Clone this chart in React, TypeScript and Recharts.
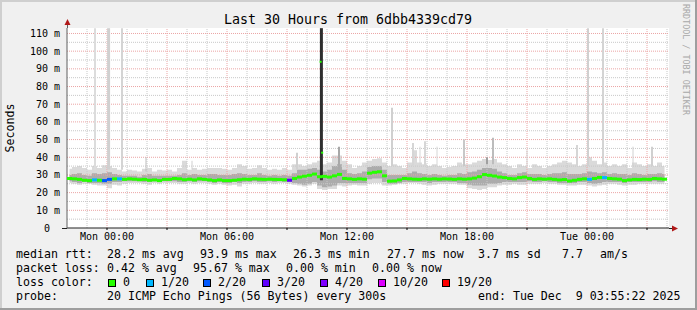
import { ComposedChart, Area, Line, Scatter, XAxis, YAxis, ReferenceLine, CartesianGrid } from "recharts";

const MONO = "'DejaVu Sans Mono', monospace";

// 15 minute slots, hours relative to Mon 00:00 (first slot starts Sun 22:00)
const startHour = -2;
const slotHours = 0.25;

const median = [
  28.0, 27.8, 27.5, 27.0, 26.8, 27.2, 27.0, 26.8, 27.5, 27.8,
  27.8, 27.5, 27.8, 27.6, 27.3, 27.5, 27.0, 27.2, 26.8, 27.5,
  27.5, 28.0, 27.8, 27.3, 27.6, 27.2, 27.8, 27.5, 27.2, 26.8,
  27.2, 26.8, 26.8, 27.0, 27.3, 27.6, 27.5, 27.8, 27.6, 27.5,
  27.6, 27.5, 27.4, 27.3, 27.0, 28.0, 28.8, 29.3, 29.8, 30.5,
  29.0, 29.2, 28.8, 29.5, 30.3, 28.0, 27.8, 27.5, 27.8, 27.6,
  31.0, 31.5, 31.8, 29.5, 26.5, 26.6, 27.2, 28.0, 27.8, 27.6,
  27.5, 27.8, 27.6, 27.8, 27.6, 27.8, 27.7, 27.5, 27.8, 27.6,
  27.8, 28.2, 29.0, 30.2, 29.8, 29.4, 28.8, 28.5, 28.0, 27.8,
  28.5, 28.8, 28.0, 27.5, 27.8, 27.6, 27.8, 27.5, 27.2, 27.4,
  26.6, 27.0, 27.5, 27.8, 27.5, 28.0, 28.6, 28.5, 28.0, 27.8,
  27.6, 26.8, 27.2, 27.5, 27.4, 27.6, 27.5, 28.0, 27.8, 27.6,
];

const smokeHigh = [
  33.5, 34.5, 35.0, 34.0, 33.0, 35.0, 34.0, 35.5, 35.0, 34.0,
  33.0, 32.0, 33.0, 32.5, 32.0, 33.5, 34.0, 32.0, 33.0, 32.5,
  33.0, 32.0, 34.0, 38.0, 33.0, 34.0, 33.0, 33.5, 34.0, 34.0,
  34.0, 33.5, 33.0, 34.0, 36.0, 35.0, 33.5, 34.0, 35.5, 34.0,
  33.0, 33.5, 33.0, 34.0, 33.0, 36.0, 36.0, 35.0, 36.0, 37.0,
  38.0, 36.0, 37.0, 41.0, 41.0, 38.0, 36.0, 34.0, 35.0, 37.0,
  38.0, 39.0, 39.5, 37.0, 35.0, 36.0, 35.0, 34.0, 37.0, 44.0,
  37.0, 36.0, 35.0, 36.0, 35.0, 34.0, 34.5, 35.0, 37.0, 36.0,
  36.0, 37.0, 38.0, 39.0, 38.5, 39.0, 37.0, 36.0, 35.0, 34.0,
  36.0, 35.0, 34.0, 36.0, 35.0, 34.0, 35.0, 36.0, 37.0, 38.0,
  37.0, 36.0, 35.0, 36.0, 40.0, 38.0, 36.0, 37.0, 35.0, 36.0,
  35.0, 36.0, 34.0, 37.0, 36.0, 35.0, 36.0, 35.0, 37.0, 35.0,
];

const smokeLow = [
  25.5, 25.0, 24.5, 25.0, 25.0, 24.5, 24.0, 24.0, 22.5, 24.5,
  24.0, 25.0, 25.5, 25.5, 25.5, 25.0, 24.5, 25.5, 25.0, 25.5,
  25.5, 25.5, 25.0, 25.0, 25.5, 25.0, 25.5, 25.5, 25.0, 24.5,
  25.0, 24.5, 24.0, 24.5, 23.5, 25.0, 25.0, 25.5, 25.0, 25.0,
  25.5, 25.0, 25.5, 25.5, 25.0, 24.5, 24.0, 23.5, 24.0, 25.0,
  22.0, 21.5, 22.0, 22.0, 24.0, 23.5, 24.0, 24.5, 24.0, 24.0,
  25.0, 25.5, 25.5, 24.0, 24.0, 24.5, 25.0, 25.0, 25.5, 25.5,
  25.0, 24.5, 24.0, 24.5, 25.0, 25.0, 25.0, 25.0, 24.5, 24.5,
  22.5, 22.0, 21.5, 22.0, 23.0, 23.0, 24.0, 24.5, 24.5, 25.0,
  24.5, 24.5, 25.0, 25.0, 25.0, 25.5, 25.0, 25.0, 24.5, 24.5,
  24.0, 24.0, 24.5, 24.5, 24.0, 23.5, 24.0, 24.5, 25.0, 25.0,
  24.5, 24.0, 24.5, 24.5, 25.0, 25.0, 25.0, 25.0, 25.0, 25.0,
];

const coreHigh = [
  30.0, 30.5, 31.0, 30.0, 29.5, 31.0, 30.5, 31.0, 31.5, 30.5,
  30.0, 29.5, 29.5, 29.5, 29.0, 30.0, 30.5, 29.5, 29.5, 29.5,
  29.5, 29.5, 30.0, 31.0, 30.0, 30.5, 30.0, 30.0, 30.5, 30.5,
  30.0, 30.0, 30.0, 30.5, 31.0, 30.5, 30.0, 30.0, 31.0, 30.0,
  29.5, 30.0, 29.5, 30.0, 29.5, 31.0, 33.0, 33.0, 33.5, 34.0,
  33.0, 32.0, 33.0, 35.0, 36.0, 33.0, 31.0, 30.5, 31.0, 32.0,
  34.5, 35.0, 35.0, 33.0, 30.0, 30.0, 30.0, 30.0, 31.0, 32.0,
  31.0, 30.5, 30.0, 30.5, 30.0, 29.5, 30.0, 30.0, 31.0, 30.5,
  31.5, 32.0, 33.0, 34.0, 34.0, 33.5, 32.0, 31.0, 30.0, 30.0,
  31.0, 31.5, 30.5, 30.5, 30.5, 30.0, 30.5, 31.0, 31.0, 31.5,
  30.5, 30.5, 30.5, 31.0, 32.0, 31.5, 31.0, 31.5, 30.5, 31.0,
  30.5, 30.5, 30.0, 31.0, 30.5, 30.0, 30.5, 30.5, 31.0, 30.5,
];

const coreLow = [
  26.5, 26.0, 25.5, 26.0, 25.5, 25.5, 25.5, 25.0, 25.0, 26.0,
  26.0, 26.5, 26.5, 26.5, 26.5, 26.0, 26.0, 26.5, 26.0, 26.5,
  26.5, 26.5, 26.0, 26.0, 26.5, 26.0, 26.5, 26.5, 26.0, 25.5,
  26.0, 25.5, 25.5, 26.0, 25.5, 26.0, 26.0, 26.5, 26.0, 26.0,
  26.5, 26.0, 26.5, 26.0, 26.0, 25.5, 25.0, 24.5, 25.0, 26.0,
  24.0, 23.0, 23.5, 24.0, 25.5, 25.5, 25.5, 25.5, 25.5, 25.5,
  27.5, 28.0, 28.0, 26.0, 25.0, 25.0, 25.5, 26.0, 26.0, 26.0,
  26.0, 26.0, 25.5, 26.0, 26.0, 26.0, 26.0, 26.0, 25.5, 25.5,
  24.5, 24.0, 24.0, 24.0, 25.0, 25.0, 25.5, 26.0, 26.0, 26.0,
  26.0, 26.0, 26.5, 26.0, 26.0, 26.5, 26.0, 26.0, 25.5, 25.5,
  25.5, 25.5, 26.0, 26.0, 25.5, 25.0, 25.5, 26.0, 26.0, 26.0,
  26.0, 25.5, 26.0, 26.0, 26.0, 26.0, 26.0, 26.5, 26.0, 26.0,
];

// slot index -> loss level (index into lossColors)
const lossBySlot: Record<number, number> = { 5: 1, 7: 2, 8: 2, 10: 1, 44: 3, 104: 1, 107: 1 };

const lossColors = ["#26ff00", "#00b8ff", "#0059ff", "#5e00ff", "#7e00ff", "#dd00ff", "#ff0000"];
const lossLabels = ["0", "1/20", "2/20", "3/20", "4/20", "10/20", "19/20"];
const lossBoxX = [108, 146, 203, 262, 320, 378, 442];

// single-sample smoke spikes
const spikes = [
  { t: -0.6, lo: 33, hi: 113, w: 2, c: "#dcdcdc" },
  { t: 0.08, lo: 33, hi: 113, w: 3, c: "#d0d0d0" },
  { t: 0.75, lo: 33, hi: 113, w: 2, c: "#d4d4d4" },
  { t: 1.95, lo: 32, hi: 40, w: 1, c: "#bdbdbd" },
  { t: 4.25, lo: 33, hi: 38, w: 1, c: "#d0d0d0" },
  { t: 9.5, lo: 33, hi: 42.5, w: 2, c: "#d0d0d0" },
  { t: 11.6, lo: 33, hi: 46, w: 2, c: "#a8a8a8" },
  { t: 14.25, lo: 35, hi: 68, w: 2, c: "#d0d0d0" },
  { t: 15.3, lo: 35, hi: 48, w: 2, c: "#d6d6d6" },
  { t: 15.65, lo: 35, hi: 46, w: 1, c: "#d6d6d6" },
  { t: 15.9, lo: 35, hi: 49, w: 2, c: "#d6d6d6" },
  { t: 16.5, lo: 35, hi: 46, w: 1, c: "#d6d6d6" },
  { t: 17.85, lo: 35, hi: 50, w: 2, c: "#c8c8c8" },
  { t: 19.0, lo: 36, hi: 40, w: 2, c: "#a0a0a0" },
  { t: 19.3, lo: 36, hi: 51, w: 2, c: "#bcbcbc" },
  { t: 21.0, lo: 35, hi: 44, w: 1, c: "#d0d0d0" },
  { t: 23.5, lo: 35, hi: 47, w: 2, c: "#d6d6d6" },
  { t: 24.05, lo: 35, hi: 113, w: 2, c: "#d0d0d0" },
  { t: 24.8, lo: 35, hi: 113, w: 2, c: "#d4d4d4" },
  { t: 26.3, lo: 35, hi: 46, w: 1, c: "#d0d0d0" },
  { t: 27.25, lo: 35, hi: 46, w: 2, c: "#d0d0d0" },
  { t: 10.72, lo: 27, hi: 113, w: 3, c: "#2e2e2e" },
];
const spikeMedians = [
  { t: 10.68, med: 94 },
  { t: 10.76, med: 42.6 },
];

const yTicks = [0, 10, 20, 30, 40, 50, 60, 70, 80, 90, 100, 110];
const yMinor = [5, 15, 25, 35, 45, 55, 65, 75, 85, 95, 105];
const xMajor = [0, 3, 6, 9, 12, 15, 18, 21, 24, 27];
const xMinor = [-1, 1, 2, 4, 5, 7, 8, 10, 11, 13, 14, 16, 17, 19, 20, 22, 23, 25, 26, 28];
const xLabels: Record<number, string> = {
  0: "Mon 00:00",
  6: "Mon 06:00",
  12: "Mon 12:00",
  18: "Mon 18:00",
  24: "Tue 00:00",
};

const rttRow: [string, number][] = [
  ["median rtt:", 16], ["28.2 ms avg", 107], ["93.9 ms max", 200], ["26.3 ms min", 293],
  ["27.7 ms now", 387], ["3.7 ms sd", 478], ["7.7", 562], ["am/s", 600],
];
const lossRow: [string, number][] = [
  ["packet loss:", 16], ["0.42 % avg", 107], ["95.67 % max", 193], ["0.00 % min", 286], ["0.00 % now", 372],
];
const probeRow: [string, number][] = [
  ["probe:", 16], ["20 ICMP Echo Pings (56 Bytes) every 300s", 107], ["end: Tue Dec  9 03:55:22 2025", 478],
];

const rows = median.map((m, i) => ({
  t: startHour + (i + 0.5) * slotHours,
  med: m,
  smoke: [smokeLow[i], smokeHigh[i]],
  core: [coreLow[i], coreHigh[i]],
  loss: lossBySlot[i] ?? 0,
}));

const MedianMark = (p: any) => (
  <rect x={p.cx - 2.5} y={p.cy - 1.5} width={5} height={3} fill={lossColors[p.payload.loss ?? 0]} />
);
const SpikeDot = (p: any) => <rect x={p.cx - 1} y={p.cy - 1} width={2} height={2} fill="#26ff00" />;

const YTick = ({ y, payload }: any) => (
  <text x={payload.value === 0 ? 50 : 60} y={y + 3.5} textAnchor="end" fontFamily={MONO} fontSize={10} fill="#000">
    {payload.value === 0 ? "0" : `${payload.value} m`}
  </text>
);
const XTick = ({ x, payload }: any) =>
  xLabels[payload.value] ? (
    <text x={x} y={240} textAnchor="middle" fontFamily={MONO} fontSize={10} fill="#000">
      {xLabels[payload.value]}
    </text>
  ) : (
    <g />
  );

function Row({ items, y }: { items: [string, number][]; y: number }) {
  return (
    <>
      {items.map(([s, x]) => (
        <text key={s + x} x={x} y={y} fontFamily={MONO} fontSize={11.6} fill="#000" style={{ whiteSpace: "pre" }}>
          {s}
        </text>
      ))}
    </>
  );
}

export default function App() {
  return (
    <div style={{ position: "absolute", left: 0, top: 0, width: 697, height: 310, background: "#f0f0f0" }}>
      <ComposedChart width={697} height={310} data={rows} margin={{ top: 28, right: 28, bottom: 52, left: 7 }}>
        <CartesianGrid horizontal={false} vertical={false} fill="#ffffff" />
        {yMinor.map((v) => (
          <ReferenceLine key={"ym" + v} y={v} stroke="#c8c8c8" strokeDasharray="1 1" />
        ))}
        {xMinor.map((v) => (
          <ReferenceLine key={"xm" + v} x={v} stroke="#c8c8c8" strokeDasharray="1 1" />
        ))}
        {yTicks.slice(1).map((v) => (
          <ReferenceLine key={"yM" + v} y={v} stroke="#eba5a5" strokeDasharray="1 1" />
        ))}
        {xMajor.map((v) => (
          <ReferenceLine key={"xM" + v} x={v} stroke="#eba5a5" strokeDasharray="1 1" />
        ))}
        <XAxis
          dataKey="t"
          type="number"
          domain={[-2, 28.1]}
          allowDataOverflow
          ticks={xMajor}
          tick={XTick}
          tickSize={2}
          tickLine={{ stroke: "#000" }}
          axisLine={{ stroke: "#202020" }}
          height={30}
          interval={0}
        />
        <YAxis
          type="number"
          domain={[0, 113.1]}
          allowDataOverflow
          ticks={yTicks}
          tick={YTick}
          tickLine={false}
          axisLine={{ stroke: "#606060" }}
          width={60}
          interval={0}
        />
        <Area dataKey="smoke" type="step" stroke="none" fill="#dadada" fillOpacity={1} isAnimationActive={false} />
        <Area dataKey="core" type="step" stroke="none" fill="#acacac" fillOpacity={1} isAnimationActive={false} />
        {spikes.map((s, k) => (
          <Line
            key={"sp" + k}
            data={[{ t: s.t, v: s.lo }, { t: s.t, v: s.hi }]}
            dataKey="v"
            stroke={s.c}
            strokeWidth={s.w}
            dot={false}
            activeDot={false}
            isAnimationActive={false}
          />
        ))}
        <Scatter dataKey="med" shape={MedianMark} isAnimationActive={false} />
        <Scatter data={spikeMedians} dataKey="med" shape={SpikeDot} isAnimationActive={false} />
      </ComposedChart>
      <svg width={697} height={310} style={{ position: "absolute", left: 0, top: 0, pointerEvents: "none" }}>
        <rect x={0} y={0} width={697} height={2} fill="#cfcfcf" />
        <rect x={0} y={0} width={2} height={310} fill="#cfcfcf" />
        <rect x={0} y={308} width={697} height={2} fill="#9e9e9e" />
        <rect x={695} y={0} width={2} height={310} fill="#9e9e9e" />
        <text x={348} y={23.5} textAnchor="middle" fontFamily={MONO} fontSize={13.3} fill="#000">
          Last 30 Hours from 6dbb4339cd79
        </text>
        <text transform="translate(13.5,128) rotate(-90)" textAnchor="middle" fontFamily={MONO} fontSize={11.6} fill="#000">
          Seconds
        </text>
        <text transform="translate(683,4) rotate(90)" fontFamily={MONO} fontSize={8.4} fill="#a8a8a8">
          RRDTOOL / TOBI OETIKER
        </text>
        <line x1={67.5} y1={28} x2={67.5} y2={22} stroke="#606060" />
        <path d="M64.5 25 L70.5 25 L67.5 19 Z" fill="#b01818" />
        <line x1={62} y1={228.5} x2={67} y2={228.5} stroke="#202020" />
        <line x1={669} y1={228.5} x2={672} y2={228.5} stroke="#202020" />
        <path d="M672 225.5 L672 231.5 L678 228.5 Z" fill="#b01818" />
        <Row items={rttRow} y={258} />
        <Row items={lossRow} y={272} />
        <text x={16} y={286} fontFamily={MONO} fontSize={11.6} fill="#000">
          loss color:
        </text>
        {lossLabels.map((label, k) => (
          <g key={label}>
            <rect x={lossBoxX[k] + 0.5} y={279.5} width={7} height={7} fill={lossColors[k]} stroke="#000" strokeWidth={1} />
            <text x={lossBoxX[k] + 15} y={286} fontFamily={MONO} fontSize={11.6} fill="#000">
              {label}
            </text>
          </g>
        ))}
        <Row items={probeRow} y={300} />
      </svg>
    </div>
  );
}
